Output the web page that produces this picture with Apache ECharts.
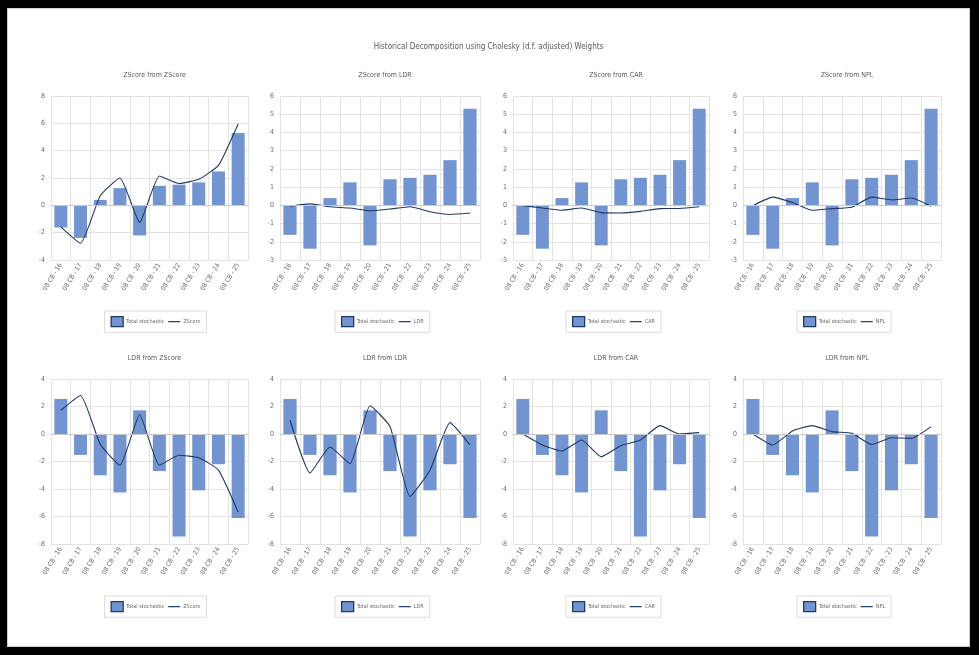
<!DOCTYPE html>
<html>
<head>
<meta charset="utf-8">
<script src="https://cdn.jsdelivr.net/npm/echarts@6/dist/echarts.min.js"></script>
<style>
  html, body { margin: 0; padding: 0; background: #000; }
  #frame { position: absolute; left: 0; top: 0; width: 979px; height: 655px; background: #000; }
  #chart { position: absolute; left: 7px; top: 8px; width: 963px; height: 639px; background: #fff; box-shadow: inset 0 0 0 1px #cfcfcf; }
</style>
</head>
<body>
<div id="frame"></div>
<div id="chart"></div>
<script>
// Periods on the category axis
const periods = ['08 CB - 16', '08 CB - 17', '08 CB - 18', '08 CB - 19', '08 CB - 20',
                 '08 CB - 21', '08 CB - 22', '08 CB - 23', '08 CB - 24', '08 CB - 25'];

// Total stochastic component of each target variable
const zscoreTotal = [-1.62, -2.38, 0.40, 1.26, -2.2, 1.43, 1.51, 1.68, 2.48, 5.3];
const ldrTotal    = [2.55, -1.52, -3.0, -4.25, 1.72, -2.7, -7.45, -4.1, -2.2, -6.1];

// Contributions of each shock to ZScore
const zscoreFromZScore = [-1.57, -2.77, 0.7, 2.0, -1.25, 2.15, 1.6, 1.9, 2.92, 5.95];
const zscoreFromLDR    = [-0.05, 0.08, -0.08, -0.15, -0.3, -0.2, -0.08, -0.35, -0.5, -0.42];
const zscoreFromCAR    = [-0.02, -0.15, -0.27, -0.15, -0.4, -0.42, -0.33, -0.18, -0.17, -0.08];
const zscoreFromNPL    = [-0.02, 0.45, 0.15, -0.27, -0.18, -0.1, 0.45, 0.3, 0.4, -0.05];

// Contributions of each shock to LDR
const ldrFromZScore = [1.72, 2.8, -0.75, -2.27, 1.4, -2.27, -1.55, -1.73, -2.63, -5.68];
const ldrFromLDR    = [1.0, -2.83, -0.95, -2.15, 2.05, 0.54, -4.54, -2.63, 0.83, -0.8];
const ldrFromCAR    = [0.0, -0.8, -1.24, -0.44, -1.66, -0.85, -0.44, 0.61, 0.0, 0.1];
const ldrFromNPL    = [0.0, -0.8, 0.22, 0.61, 0.17, 0.05, -0.76, -0.27, -0.32, 0.54];

const mainTitle = 'Historical Decomposition using Cholesky (d.f. adjusted) Weights';
const totalName = 'Total stochastic';

const panels = [
  { title: 'ZScore from ZScore', shock: 'ZScore', total: zscoreTotal, part: zscoreFromZScore, min: -4, max: 8, step: 2 },
  { title: 'ZScore from LDR',    shock: 'LDR',    total: zscoreTotal, part: zscoreFromLDR,    min: -3, max: 6, step: 1 },
  { title: 'ZScore from CAR',    shock: 'CAR',    total: zscoreTotal, part: zscoreFromCAR,    min: -3, max: 6, step: 1 },
  { title: 'ZScore from NPL',    shock: 'NPL',    total: zscoreTotal, part: zscoreFromNPL,    min: -3, max: 6, step: 1 },
  { title: 'LDR from ZScore',    shock: 'ZScore', total: ldrTotal,    part: ldrFromZScore,    min: -8, max: 4, step: 2 },
  { title: 'LDR from LDR',       shock: 'LDR',    total: ldrTotal,    part: ldrFromLDR,       min: -8, max: 4, step: 2 },
  { title: 'LDR from CAR',       shock: 'CAR',    total: ldrTotal,    part: ldrFromCAR,       min: -8, max: 4, step: 2 },
  { title: 'LDR from NPL',       shock: 'NPL',    total: ldrTotal,    part: ldrFromNPL,       min: -8, max: 4, step: 2 }
];

// Layout in page pixels; the chart div is offset by (7, 8)
const OX = 7, OY = 8;
const cols = [[51, 248], [280, 480], [513, 709], [743, 941]];
const rows = [
  { top: 96,  bottom: 260, title: 67,  legend: 311 },
  { top: 379, bottom: 544, title: 350, legend: 596 }
];

const FONT = '"Liberation Sans Narrow", "DejaVu Sans Condensed", "Liberation Sans", sans-serif';
const BAR = '#7294d0';
const LINE = '#1f3864';
const TEXT = '#6b6b6b';
const CHART_W = 963;
// Thin horizontal stroke used as the line-series legend marker
const LINE_ICON = 'path://M0,0L12,0L12,1.2L0,1.2Z';

const option = {
  animation: false,
  textStyle: { fontFamily: FONT },
  title: [{
    text: mainTitle,
    left: 'center', top: 38 - OY,
    textStyle: { fontFamily: FONT, fontSize: 8, fontWeight: 'normal', color: '#595959' }
  }],
  grid: [], xAxis: [], yAxis: [], series: [], legend: []
};

panels.forEach((p, i) => {
  const c = cols[i % 4], r = rows[Math.floor(i / 4)];
  const left = c[0] - OX, right = CHART_W - (c[1] - OX);
  const center = (c[0] + c[1]) / 2 - OX;

  option.title.push({
    text: p.title,
    left: center, top: r.title - OY, textAlign: 'center',
    textStyle: { fontFamily: FONT, fontSize: 7, fontWeight: 'normal', color: '#595959' }
  });

  option.grid.push({ left: left, right: right, top: r.top - OY, height: r.bottom - r.top });

  option.xAxis.push({
    type: 'category', gridIndex: i, data: periods,
    axisLine: { show: false, onZero: false },
    axisTick: { show: false },
    splitLine: { show: true, interval: 0, lineStyle: { color: '#e3e3e3', width: 1 } },
    axisLabel: { interval: 0, rotate: 58, fontSize: 6.5, color: TEXT, margin: 4, fontFamily: FONT }
  });

  option.yAxis.push({
    type: 'value', gridIndex: i, min: p.min, max: p.max, interval: p.step,
    axisLine: { show: false }, axisTick: { show: false },
    splitLine: { lineStyle: { color: '#e3e3e3', width: 1 } },
    axisLabel: { fontSize: 7, color: TEXT, margin: 6, fontFamily: FONT }
  });

  option.series.push({
    name: totalName, type: 'bar', xAxisIndex: i, yAxisIndex: i,
    data: p.total, barCategoryGap: '34%',
    itemStyle: { color: BAR },
    markLine: {
      silent: true, symbol: 'none', label: { show: false },
      lineStyle: { color: '#c9c9c9', type: 'solid', width: 1 },
      data: [{ yAxis: 0 }]
    },
    z: 2
  });
  option.series.push({
    name: p.shock, type: 'line', xAxisIndex: i, yAxisIndex: i,
    data: p.part, symbol: 'none', showSymbol: false, smooth: 0.15,
    lineStyle: { color: LINE, width: 1.1 },
    itemStyle: { color: LINE },
    z: 3
  });

  option.legend.push({
    data: [
      { name: totalName, icon: 'rect', itemStyle: { color: BAR, borderColor: LINE, borderWidth: 1.3 } },
      { name: p.shock, icon: LINE_ICON, itemStyle: { color: LINE, borderWidth: 0 } }
    ],
    left: center - 45, top: r.legend - OY,
    orient: 'horizontal',
    itemWidth: 12, itemHeight: 10, itemGap: 4,
    symbolKeepAspect: true,
    padding: [5, 6],
    borderColor: '#dcdcdc', borderWidth: 1,
    selectedMode: false,
    textStyle: { fontSize: 5.5, color: TEXT, fontFamily: FONT, padding: [0, 0, 0, -2] }
  });
});

const chart = echarts.init(document.getElementById('chart'), null, { renderer: 'canvas' });
chart.setOption(option);
</script>
</body>
</html>
